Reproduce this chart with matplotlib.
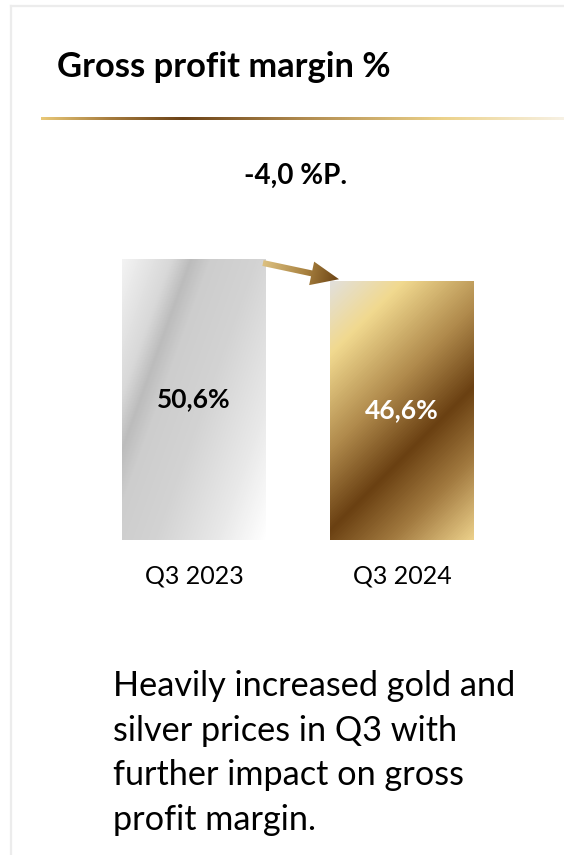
import numpy as np
import matplotlib.pyplot as plt
from matplotlib.colors import LinearSegmentedColormap
from matplotlib.patches import Polygon

# ---------------------------
# Data
categories = ['Q3 2023', 'Q3 2024']
margins = [50.6, 46.6]
bar_labels = ['50,6%', '46,6%']
label_colors = ['black', 'white']
delta_label = '-4,0 %P.'
title = 'Gross profit margin %'
note_lines = ['Heavily increased gold and',
              'silver prices in Q3 with',
              'further impact on gross',
              'profit margin.']

# ---------------------------
# Colours
silver = LinearSegmentedColormap.from_list('silver', [
    (0.0, '#f3f3f3'), (0.2, '#d8d8d8'), (0.28, '#bcbcbc'), (0.36, '#cdcdcd'),
    (0.55, '#d3d3d3'), (0.8, '#e8e8e8'), (1.0, '#ffffff')])
gold = LinearSegmentedColormap.from_list('gold', [
    (0.0, '#e2e0dc'), (0.18, '#f1d98f'), (0.42, '#b08a4c'),
    (0.62, '#6a4012'), (0.8, '#a27a40'), (1.0, '#ecd08a')])
gold_line = LinearSegmentedColormap.from_list('gold_line', [
    (0.0, '#e9c877'), (0.13, '#a67c3e'), (0.27, '#6b4217'),
    (0.5, '#b08a4e'), (0.77, '#ecd28a'), (1.0, '#f7f1e4')])
arrow_cmap = LinearSegmentedColormap.from_list('arrow', [
    (0.0, '#dcc080'), (0.55, '#a98240'), (1.0, '#6a4214')])
# gradient direction (x right, y down) for each bar
grad_dirs = [(0.94, 0.34), (0.707, 0.707)]
cmaps = [silver, gold]

W, H = 564, 855
plt.rcParams['font.family'] = ['Lato', 'DejaVu Sans']
fig = plt.figure(figsize=(W / 100, H / 100), dpi=100)
fig.patch.set_facecolor('white')

# bar axes: zero line at y=540px, 0..60 covers 540..207px
ax = fig.add_axes([90 / W, (H - 540) / H, 416 / W, (540 - 206.8) / H])
ax.set_xlim(-0.5, 1.5)
ax.set_ylim(0, 60)
ax.axis('off')

x = np.arange(len(categories))
bars = ax.bar(x, margins, width=0.692, color='none', edgecolor='none')

for i, b in enumerate(bars):
    x0, x1 = b.get_x(), b.get_x() + b.get_width()
    top = b.get_height()
    p0 = ax.transData.transform((x0, 0))
    p1 = ax.transData.transform((x1, top))
    w_px = int(round(p1[0] - p0[0]))
    h_px = int(round(p1[1] - p0[1]))
    xx, yy = np.meshgrid(np.arange(w_px), np.arange(h_px))
    nx, ny = grad_dirs[i]
    t = nx * xx + ny * yy
    t = t / t.max()
    im = ax.imshow(t, cmap=cmaps[i], extent=(x0, x1, 0, top), origin='upper',
                   aspect='auto', interpolation='bilinear', zorder=1)
    im.set_clip_path(b)
    ax.text(x[i], top / 2, bar_labels[i], ha='center', va='center',
            fontsize=19, fontweight='bold', color=label_colors[i], zorder=3)
    ax.text(x[i], -6.4, categories[i], ha='center', va='center',
            fontsize=18, color='black')
ax.set_xlim(-0.5, 1.5)
ax.set_ylim(0, 60)

# overlay in pixel coordinates for frame, rule and arrow
ov = fig.add_axes([0, 0, 1, 1], zorder=5)
ov.set_xlim(0, W)
ov.set_ylim(H, 0)
ov.axis('off')
ov.patch.set_alpha(0)

# light frame
ov.plot([11, 11], [6, H], color='#ececec', lw=1.6)
ov.plot([11, W], [6, 6], color='#ececec', lw=1.6)

# title and gold rule
ov.text(57, 77, title, ha='left', va='baseline', fontsize=24.8, fontweight='bold')
line_grad = np.linspace(0, 1, 256).reshape(1, -1)
ov.imshow(line_grad, cmap=gold_line, extent=(41, W, 120.5, 117.5),
          aspect='auto', interpolation='bilinear')

ov.text(296, 176, delta_label, ha='center', va='center', fontsize=20,
        fontweight='bold')


def to_px(pt):
    d = ax.transData.transform(pt)
    return np.array([d[0], H - d[1]])


# arrow from top of first bar to top of second bar
b0, b1 = bars[0], bars[1]
tail = to_px((b0.get_x() + b0.get_width(), margins[0])) + np.array([-3, 4])
tip = to_px((b1.get_x(), margins[1])) + np.array([9, -2])
d = tip - tail
L = np.hypot(*d)
u = d / L
n = np.array([-u[1], u[0]])
head_len, head_hw, shaft_hw = 28, 12, 3
base = tip - u * head_len
pts = [tail + n * shaft_hw, base + n * shaft_hw, base + n * head_hw, tip,
       base - n * head_hw, base - n * shaft_hw, tail - n * shaft_hw]
arrow = Polygon(pts, closed=True, facecolor='none', edgecolor='none')
ov.add_patch(arrow)
xs = np.linspace(tail[0] - 15, tip[0] + 5, 120)
ys = np.linspace(tail[1] - 15, tip[1] + 15, 60)
gx, gy = np.meshgrid(xs, ys)
ag = ((gx - tail[0]) * u[0] + (gy - tail[1]) * u[1]) / L
ai = ov.imshow(np.clip(ag, 0, 1), cmap=arrow_cmap,
               extent=(xs[0], xs[-1], ys[-1], ys[0]), aspect='auto',
               interpolation='bilinear')
ai.set_clip_path(arrow)

# note below the chart
for k, line in enumerate(note_lines):
    ov.text(113, 686 + 44.7 * k, line, ha='left', va='center', fontsize=24.7)

ov.set_xlim(0, W)
ov.set_ylim(H, 0)

fig.savefig('out.png', dpi=100, facecolor='white')
